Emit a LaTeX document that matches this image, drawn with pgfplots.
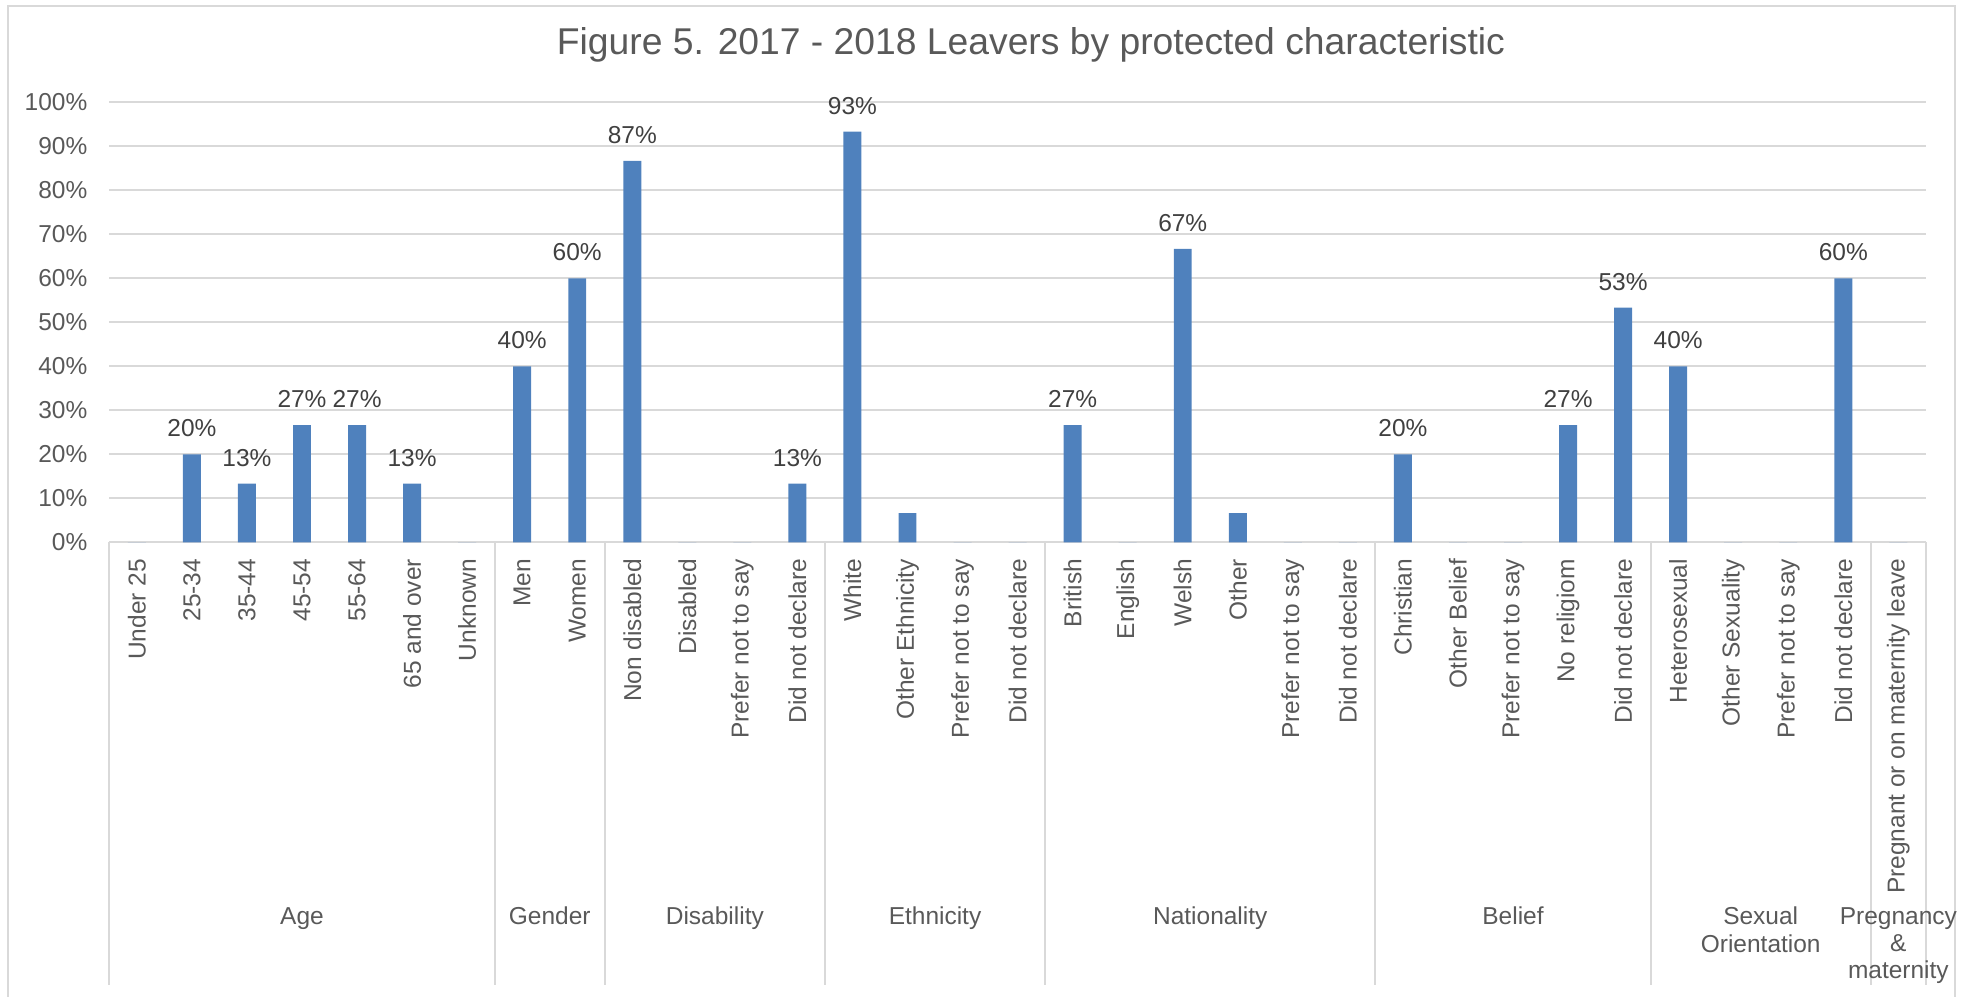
\documentclass[border=0pt]{standalone}
\usepackage{pgfplots}
\pgfplotsset{compat=1.18}
\usepackage{fontspec}
\setmainfont{Liberation Sans}
\definecolor{barblue}{HTML}{4F81BD}
\definecolor{txtgray}{HTML}{595959}
\definecolor{lblgray}{HTML}{404040}
\definecolor{gridgray}{HTML}{D9D9D9}
\begin{document}
\begin{tikzpicture}
\useasboundingbox (-40.2pt,-167.1pt) rectangle (684.4pt,199.4pt);
\draw[gridgray, line width=0.75pt] (-37.3pt,-175pt) -- (-37.3pt,197.2pt) -- (678.6pt,197.2pt) -- (678.6pt,-175pt);
\begin{axis}[
  at={(0pt,0pt)}, anchor=south west,
  scale only axis, width=667.8pt, height=161.8pt,
  xmin=-0.5, xmax=32.5, ymin=0, ymax=100,
  clip=false,
  axis line style={draw=none},
  major tick length=0pt,
  ytick={0,10,...,100},
  yticklabels={0\%,10\%,20\%,30\%,40\%,50\%,60\%,70\%,80\%,90\%,100\%},
  ymajorgrids, grid style={gridgray, line width=0.75pt},
  xtick={0,...,32},
  xticklabels={Under 25,25-34,35-44,45-54,55-64,65 and over,Unknown,Men,Women,Non disabled,Disabled,Prefer not to say,Did not declare,White,Other Ethnicity,Prefer not to say,Did not declare,British,English,Welsh,Other,Prefer not to say,Did not declare,Christian,Other Belief,Prefer not to say,No religiom,Did not declare,Heterosexual,Other Sexuality,Prefer not to say,Did not declare,Pregnant or on maternity leave},
  xticklabel style={rotate=90, anchor=east, inner xsep=5.9pt, inner ysep=0pt, font=\fontsize{9}{10.5}\selectfont, text=txtgray},
  yticklabel style={anchor=east, inner sep=0pt, xshift=-7.9pt, font=\fontsize{9}{10.5}\selectfont, text=txtgray},
  /pgf/number format/assume math mode=true,
]
\addplot[ybar, bar width=6.6pt, bar shift=0pt, fill=barblue, draw=none] coordinates {
(0,0) (1,20) (2,13.33) (3,26.67) (4,26.67) (5,13.33) (6,0)
(7,40) (8,60)
(9,86.67) (10,0) (11,0) (12,13.33)
(13,93.33) (14,6.67) (15,0) (16,0)
(17,26.67) (18,0) (19,66.67) (20,6.67) (21,0) (22,0)
(23,20) (24,0) (25,0) (26,26.67) (27,53.33)
(28,40) (29,0) (30,0) (31,60)
(32,0)
};
\addplot[draw=none, mark=none, point meta=y,
  nodes near coords={\pgfmathprintnumber[fixed,precision=0]{\pgfplotspointmeta}\%},
  every node near coord/.style={anchor=south, inner sep=0pt, yshift=6.1pt, font=\fontsize{9}{10.5}\selectfont, text=lblgray}] coordinates {
(1,20) (2,13.33) (3,26.67) (4,26.67) (5,13.33)
(7,40) (8,60)
(9,86.67) (12,13.33)
(13,93.33)
(17,26.67) (19,66.67)
(23,20) (26,26.67) (27,53.33)
(28,40) (31,60)
};
\foreach \s in {-0.5,6.5,8.5,12.5,16.5,22.5,27.5,31.5,32.5}{
  \edef\temp{\noexpand\draw[gridgray, line width=0.75pt] (axis cs:\s,0) -- ++(0pt,-162.7pt);}
  \temp
}
\begin{scope}[every node/.style={anchor=north, inner sep=0pt, align=center, font=\fontsize{9}{10.1}\selectfont, text=txtgray}]
\node at ([yshift=-133.9pt]axis cs:3,0) {Age};
\node at ([yshift=-133.9pt]axis cs:7.5,0) {Gender};
\node at ([yshift=-133.9pt]axis cs:10.5,0) {Disability};
\node at ([yshift=-133.9pt]axis cs:14.5,0) {Ethnicity};
\node at ([yshift=-133.9pt]axis cs:19.5,0) {Nationality};
\node at ([yshift=-133.9pt]axis cs:25,0) {Belief};
\node at ([yshift=-133.9pt]axis cs:29.5,0) {Sexual\\Orientation};
\node at ([yshift=-133.9pt]axis cs:32,0) {Pregnancy\\\&\\maternity};
\end{scope}
\end{axis}
\node[anchor=base, inner sep=0pt, font=\fontsize{13.7}{16}\selectfont, text=txtgray] at (338.8pt,179.2pt) {Figure 5. 2017 - 2018 Leavers by protected characteristic};
\end{tikzpicture}
\end{document}
